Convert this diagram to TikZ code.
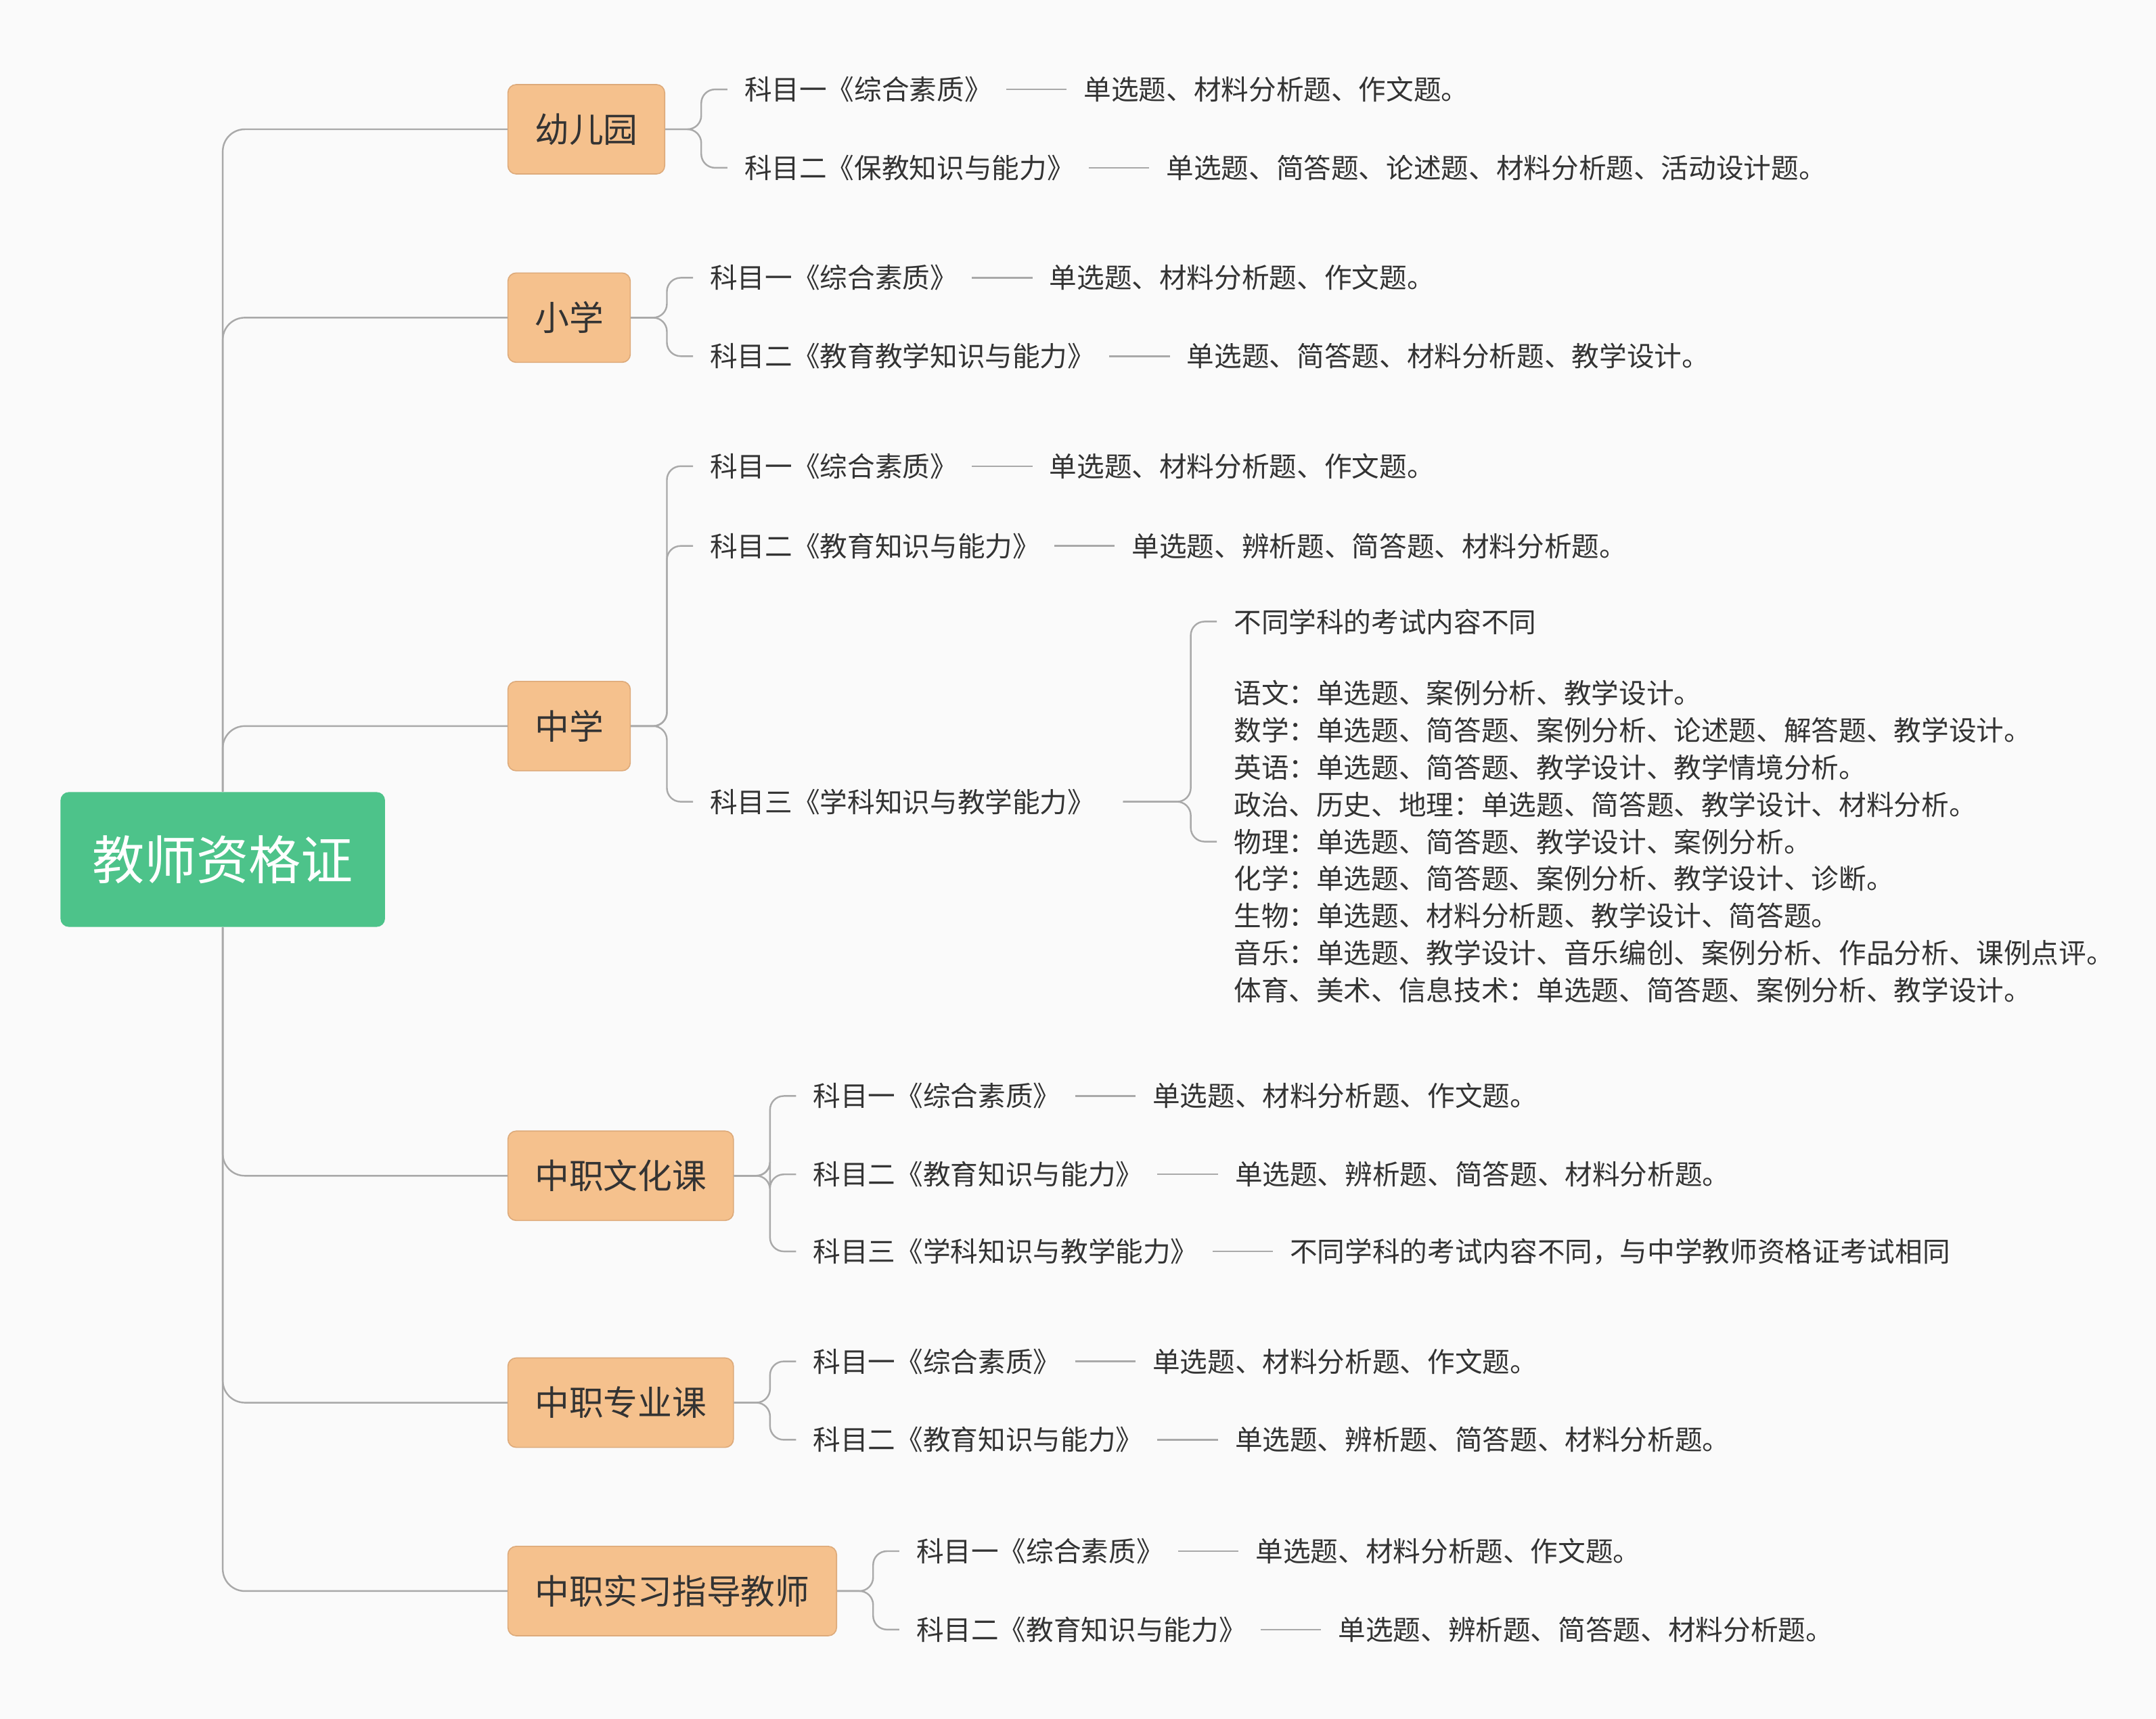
\documentclass[tikz,border=0pt]{standalone}
\usepackage{fontspec}
\setmainfont{Noto Sans CJK SC}
\usetikzlibrary{positioning}
\definecolor{bg}{HTML}{FAFAFA}
\definecolor{ln}{HTML}{A9A9A9}
\definecolor{tx}{HTML}{333333}
\definecolor{gr}{HTML}{4DC38A}
\definecolor{orf}{HTML}{F5C18D}
\definecolor{ord}{HTML}{DDAA7A}
\tikzset{
 lvl/.style={draw=ord,fill=orf,rounded corners=3pt,minimum height=32.5pt,anchor=west,text=tx,font=\fontsize{12.5}{14}\selectfont,inner xsep=0pt},
 sub/.style={anchor=west,inner sep=0pt,text=tx,font=\fontsize{10}{12}\selectfont},
 ans/.style={right=33pt of #1,inner sep=0pt,text=tx,font=\fontsize{10}{12}\selectfont},
 con/.style={draw=ln,line width=0.6pt,rounded corners=5pt},
 dsh/.style={draw=ln,line width=0.6pt}
}
\newcommand{\pair}[4]{% name, x, y, subject text ; answer separately
 \node[sub] (#1) at (#2,#3) {#4};}
\newcommand{\ansr}[2]{\node[ans=#1] (#1a) {#2};
 \draw[dsh] ([xshift=5pt]#1.east) -- ([xshift=-6pt]#1a.west);}
\begin{document}
\begin{tikzpicture}[x=0.5pt,y=-0.5pt]
\fill[bg] (0,0) rectangle (1568,1250);
\useasboundingbox (0,0) rectangle (1568,1250);
\node[fill=gr,rounded corners=3pt,minimum width=118pt,minimum height=49pt,text=white,font=\fontsize{19}{22}\selectfont] (root) at (162,625) {教师资格证};
\node[lvl,minimum width=57pt] (k1) at (369,94) {幼儿园};
\node[lvl,minimum width=44.5pt] (k2) at (369,231) {小学};
\node[lvl,minimum width=44.5pt] (k3) at (369,528) {中学};
\node[lvl,minimum width=82pt] (k4) at (369,855) {中职文化课};
\node[lvl,minimum width=82pt] (k5) at (369,1020) {中职专业课};
\node[lvl,minimum width=119.5pt] (k6) at (369,1157) {中职实习指导教师};
\foreach \k in {k1,k2,k3}{\draw[con,rounded corners=8pt] (root.north) |- (\k.west);}
\foreach \k in {k4,k5,k6}{\draw[con,rounded corners=8pt] (root.south) |- (\k.west);}
% kindergarten
\pair{a1}{541}{65}{科目一《综合素质》}\ansr{a1}{单选题、材料分析题、作文题。}
\pair{a2}{541}{122}{科目二《保教知识与能力》}\ansr{a2}{单选题、简答题、论述题、材料分析题、活动设计题。}
\foreach \c in {a1,a2}{\draw[con] (k1.east) -- (510,94) |- ([xshift=-6pt]\c.west);}
% primary
\pair{b1}{516}{202}{科目一《综合素质》}\ansr{b1}{单选题、材料分析题、作文题。}
\pair{b2}{516}{259}{科目二《教育教学知识与能力》}\ansr{b2}{单选题、简答题、材料分析题、教学设计。}
\foreach \c in {b1,b2}{\draw[con] (k2.east) -- (485,231) |- ([xshift=-6pt]\c.west);}
% middle
\pair{c1}{516}{339}{科目一《综合素质》}\ansr{c1}{单选题、材料分析题、作文题。}
\pair{c2}{516}{397}{科目二《教育知识与能力》}\ansr{c2}{单选题、辨析题、简答题、材料分析题。}
\pair{c3}{516}{583}{科目三《学科知识与教学能力》}
\foreach \c in {c1,c2,c3}{\draw[con] (k3.east) -- (485,528) |- ([xshift=-6pt]\c.west);}
\node[sub] (d1) at (897,452) {不同学科的考试内容不同};
\node[sub,align=left,font=\fontsize{10}{13.5}\selectfont] (d2) at (897,612) {语文：单选题、案例分析、教学设计。\\数学：单选题、简答题、案例分析、论述题、解答题、教学设计。\\英语：单选题、简答题、教学设计、教学情境分析。\\政治、历史、地理：单选题、简答题、教学设计、材料分析。\\物理：单选题、简答题、教学设计、案例分析。\\化学：单选题、简答题、案例分析、教学设计、诊断。\\生物：单选题、材料分析题、教学设计、简答题。\\音乐：单选题、教学设计、音乐编创、案例分析、作品分析、课例点评。\\体育、美术、信息技术：单选题、简答题、案例分析、教学设计。};
\foreach \c in {d1,d2}{\draw[con] ([xshift=10pt]c3.east) -- (866,583) |- ([xshift=-6pt]\c.west);}
% vocational culture
\pair{e1}{591}{797}{科目一《综合素质》}\ansr{e1}{单选题、材料分析题、作文题。}
\pair{e2}{591}{854}{科目二《教育知识与能力》}\ansr{e2}{单选题、辨析题、简答题、材料分析题。}
\pair{e3}{591}{910}{科目三《学科知识与教学能力》}\ansr{e3}{不同学科的考试内容不同，与中学教师资格证考试相同}
\foreach \c in {e1,e2,e3}{\draw[con] (k4.east) -- (560,855) |- ([xshift=-6pt]\c.west);}
% vocational major
\pair{f1}{591}{990}{科目一《综合素质》}\ansr{f1}{单选题、材料分析题、作文题。}
\pair{f2}{591}{1047}{科目二《教育知识与能力》}\ansr{f2}{单选题、辨析题、简答题、材料分析题。}
\foreach \c in {f1,f2}{\draw[con] (k5.east) -- (560,1020) |- ([xshift=-6pt]\c.west);}
% internship
\pair{g1}{666}{1128}{科目一《综合素质》}\ansr{g1}{单选题、材料分析题、作文题。}
\pair{g2}{666}{1185}{科目二《教育知识与能力》}\ansr{g2}{单选题、辨析题、简答题、材料分析题。}
\foreach \c in {g1,g2}{\draw[con] (k6.east) -- (635,1157) |- ([xshift=-6pt]\c.west);}
\end{tikzpicture}
\end{document}
